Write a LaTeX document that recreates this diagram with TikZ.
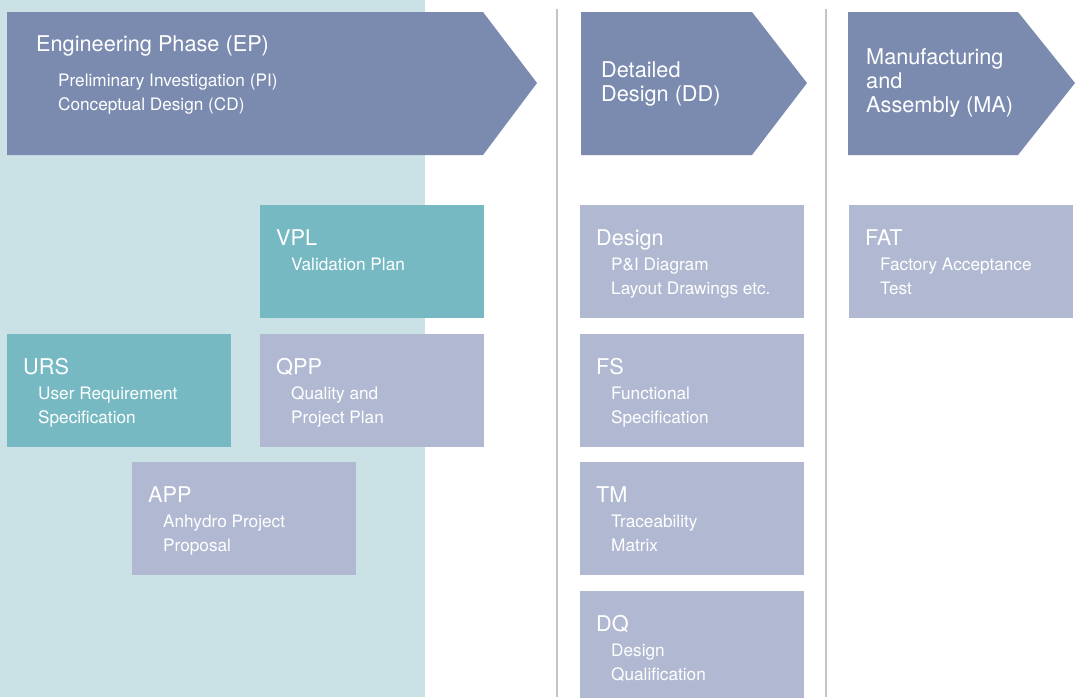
\documentclass[tikz,border=0pt]{standalone}
\usepackage{fontspec}
\setmainfont{TeX Gyre Heros}
\usetikzlibrary{positioning, calc}
\definecolor{engbg}{HTML}{CAE2E6}
\definecolor{phasecol}{HTML}{7B8BB0}
\definecolor{tealcol}{HTML}{76B9C3}
\definecolor{lilaccol}{HTML}{B1B9D2}
\definecolor{sepcol}{HTML}{C4C4C4}
\tikzset{
    phase/.style={fill=phasecol},
    docbox/.style={rectangle, inner sep=0pt, minimum width=224pt, minimum height=113pt, anchor=north west},
    tealbox/.style={docbox, fill=tealcol},
    lilacbox/.style={docbox, fill=lilaccol},
    headtxt/.style={text=white, font=\fontsize{21.7}{24}\selectfont, inner sep=0pt, anchor=base west, align=left},
    subtxt/.style={text=white, font=\fontsize{17.2}{24}\selectfont, inner sep=0pt, anchor=base west, align=left},
}

\begin{document}
\begin{tikzpicture}[x=1pt, y=-1pt]
                 \useasboundingbox (0,0) rectangle (1088,697);
                 \fill[engbg] (0,0) rectangle (425,697);
                 \draw[sepcol, line width=2pt] (557,9) -- (557,697);
                 \draw[sepcol, line width=2pt] (826,9) -- (826,697);

                 % phases
                 \fill[phase] (7,12) -- (483,12) -- (537,83) -- (483,155) -- (7,155) -- cycle;
                 \fill[phase] (581,12) -- (752,12) -- (807,83) -- (752,155) -- (581,155) -- cycle;
                 \fill[phase] (848,12) -- (1018,12) -- (1075,83) -- (1018,155) -- (848,155) -- cycle;
                 \node[headtxt] (ephead) at (36,51) {Engineering Phase (EP)};
                 \node[subtxt] (epsub) at (58,86) {Preliminary Investigation (PI)};
                 \node[subtxt] (epsubb) at (58,110) {Conceptual Design (CD)};
                 \node[headtxt] (ddhead) at (601,77) {Detailed};
                 \node[headtxt] (ddheadb) at (601,101) {Design (DD)};
                 \node[headtxt] (mahead) at (866,64) {Manufacturing};
                 \node[headtxt] (maheadb) at (866,88) {and};
                 \node[headtxt] (maheadc) at (866,112) {Assembly (MA)};

                 % documents
                 \node[tealbox] (vpl) at (260,205) {};
                 \node[tealbox] (urs) at (7,334) {};
                 \node[lilacbox] (qpp) at (260,334) {};
                 \node[lilacbox] (app) at (132,462) {};
                 \node[lilacbox] (design) at (580,205) {};
                 \node[lilacbox] (fs) at (580,334) {};
                 \node[lilacbox] (tm) at (580,462) {};
                 \node[lilacbox] (dq) at (580,591) {};
                 \node[lilacbox] (fat) at (849,205) {};

                 \node[headtxt] (vplhead) at ($(vpl.north west)+(16,40)$) {VPL};
                 \node[subtxt] (vplsub) at ($(vpl.north west)+(31,65)$) {Validation Plan};
                 \node[headtxt] (urshead) at ($(urs.north west)+(16,40)$) {URS};
                 \node[subtxt] (urssub) at ($(urs.north west)+(31,65)$) {User Requirement};
                 \node[subtxt] (urssubb) at ($(urs.north west)+(31,89)$) {Specification};
                 \node[headtxt] (qpphead) at ($(qpp.north west)+(16,40)$) {QPP};
                 \node[subtxt] (qppsub) at ($(qpp.north west)+(31,65)$) {Quality and};
                 \node[subtxt] (qppsubb) at ($(qpp.north west)+(31,89)$) {Project Plan};
                 \node[headtxt] (apphead) at ($(app.north west)+(16,40)$) {APP};
                 \node[subtxt] (appsub) at ($(app.north west)+(31,65)$) {Anhydro Project};
                 \node[subtxt] (appsubb) at ($(app.north west)+(31,89)$) {Proposal};
                 \node[headtxt] (designhead) at ($(design.north west)+(16,40)$) {Design};
                 \node[subtxt] (designsub) at ($(design.north west)+(31,65)$) {P\&I Diagram};
                 \node[subtxt] (designsubb) at ($(design.north west)+(31,89)$) {Layout Drawings etc.};
                 \node[headtxt] (fshead) at ($(fs.north west)+(16,40)$) {FS};
                 \node[subtxt] (fssub) at ($(fs.north west)+(31,65)$) {Functional};
                 \node[subtxt] (fssubb) at ($(fs.north west)+(31,89)$) {Specification};
                 \node[headtxt] (tmhead) at ($(tm.north west)+(16,40)$) {TM};
                 \node[subtxt] (tmsub) at ($(tm.north west)+(31,65)$) {Traceability};
                 \node[subtxt] (tmsubb) at ($(tm.north west)+(31,89)$) {Matrix};
                 \node[headtxt] (dqhead) at ($(dq.north west)+(16,40)$) {DQ};
                 \node[subtxt] (dqsub) at ($(dq.north west)+(31,65)$) {Design};
                 \node[subtxt] (dqsubb) at ($(dq.north west)+(31,89)$) {Qualification};
                 \node[headtxt] (fathead) at ($(fat.north west)+(16,40)$) {FAT};
                 \node[subtxt] (fatsub) at ($(fat.north west)+(31,65)$) {Factory Acceptance};
                 \node[subtxt] (fatsubb) at ($(fat.north west)+(31,89)$) {Test};
\end{tikzpicture}
\end{document}
